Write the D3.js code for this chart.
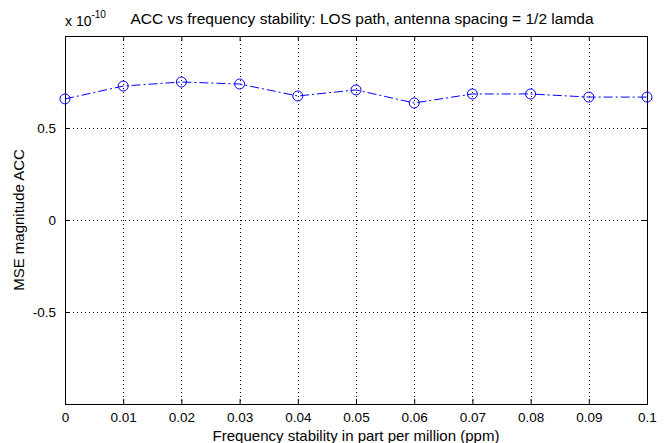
<!DOCTYPE html>
<html>
<head>
<meta charset="utf-8">
<script src="https://cdn.jsdelivr.net/npm/d3@7"></script>
<style>
  html, body { margin: 0; padding: 0; background: #fff; }
  svg { display: block; }
  text { font-family: "Liberation Sans", Arial, sans-serif; fill: #000; }
</style>
</head>
<body>
<svg id="chart" width="671" height="443"></svg>
<script>
const xValues = [0, 0.01, 0.02, 0.03, 0.04, 0.05, 0.06, 0.07, 0.08, 0.09, 0.1];
const yValues = [0.658, 0.728, 0.750, 0.739, 0.674, 0.707, 0.636, 0.685, 0.685, 0.668, 0.668];
const xTicks = [0, 0.01, 0.02, 0.03, 0.04, 0.05, 0.06, 0.07, 0.08, 0.09, 0.1];
const xTickLabels = ["0", "0.01", "0.02", "0.03", "0.04", "0.05", "0.06", "0.07", "0.08", "0.09", "0.1"];
const yTicks = [-0.5, 0, 0.5];
const yTickLabels = ["-0.5", "0", "0.5"];
const titleText = "ACC vs frequency stability: LOS path, antenna spacing = 1/2 lamda";
const xLabelText = "Frequency stability in part per million (ppm)";
const yLabelText = "MSE magnitude ACC";

const svg = d3.select("#chart");
const L = 65, R = 647, T = 36, B = 404;
const x = d3.scaleLinear().domain([0, 0.1]).range([L, R]);
const y = d3.scaleLinear().domain([-1, 1]).range([B, T]);

// grid
const g = svg.append("g");
g.selectAll(".vg").data(xTicks.slice(1, -1)).enter().append("line")
  .attr("x1", d => Math.round(x(d)) + 0.5).attr("x2", d => Math.round(x(d)) + 0.5)
  .attr("y1", T).attr("y2", B)
  .attr("stroke", "#000").attr("stroke-width", 1).attr("stroke-dasharray", "1,3");
g.selectAll(".hg").data(yTicks).enter().append("line")
  .attr("y1", d => Math.round(y(d)) + 0.5).attr("y2", d => Math.round(y(d)) + 0.5)
  .attr("x1", L).attr("x2", R)
  .attr("stroke", "#000").attr("stroke-width", 1).attr("stroke-dasharray", "1,3");

// axes (inward ticks)
const xAxisB = d3.axisBottom(x).tickValues(xTicks).tickSize(-5).tickPadding(8)
  .tickFormat((d, i) => xTickLabels[i]);
const xAxisT = d3.axisTop(x).tickValues(xTicks).tickSize(-5).tickFormat("");
const yAxisL = d3.axisLeft(y).tickValues(yTicks).tickSize(-5).tickPadding(9)
  .tickFormat((d, i) => yTickLabels[i]);
const yAxisR = d3.axisRight(y).tickValues(yTicks).tickSize(-5).tickFormat("");

function style(sel) {
  sel.select(".domain").remove();
  sel.selectAll(".tick line").attr("stroke", "#000");
  sel.selectAll("text").style("font-family", "'Liberation Sans', Arial, sans-serif")
    .style("font-size", "13.5px").attr("fill", "#000");
}
svg.append("g").attr("transform", `translate(0,${B})`).call(xAxisB).call(style);
svg.append("g").attr("transform", `translate(0,${T})`).call(xAxisT).call(style);
svg.append("g").attr("transform", `translate(${L},0)`).call(yAxisL).call(style);
svg.append("g").attr("transform", `translate(${R},0)`).call(yAxisR).call(style);

// box
svg.append("rect").attr("x", L + 0.5).attr("y", T + 0.5)
  .attr("width", R - L).attr("height", B - T)
  .attr("fill", "none").attr("stroke", "#000").attr("stroke-width", 1);

// data line
const data = xValues.map((d, i) => ({ x: d, y: yValues[i] }));
svg.append("path").datum(data)
  .attr("d", d3.line().x(d => x(d.x)).y(d => y(d.y)))
  .attr("fill", "none").attr("stroke", "#0000ff").attr("stroke-width", 1)
  .attr("stroke-dasharray", "9,3,2,3");
svg.selectAll(".pt").data(data).enter().append("circle")
  .attr("cx", d => x(d.x)).attr("cy", d => y(d.y)).attr("r", 5)
  .attr("fill", "none").attr("stroke", "#0000ff").attr("stroke-width", 1);

// texts
svg.append("text").attr("x", 362).attr("y", 24).attr("text-anchor", "middle")
  .style("font-size", "15.5px").text(titleText);
const ex = svg.append("text").attr("x", 65).attr("y", 26).style("font-size", "14px");
ex.append("tspan").text("x 10");
ex.append("tspan").attr("dy", -8).style("font-size", "10px").text("-10");
svg.append("text").attr("x", (L + R) / 2).attr("y", 441).attr("text-anchor", "middle")
  .style("font-size", "15px").text(xLabelText);
svg.append("text").attr("transform", `translate(24,${(T + B) / 2}) rotate(-90)`)
  .attr("text-anchor", "middle").style("font-size", "15px").text(yLabelText);
</script>
</body>
</html>
